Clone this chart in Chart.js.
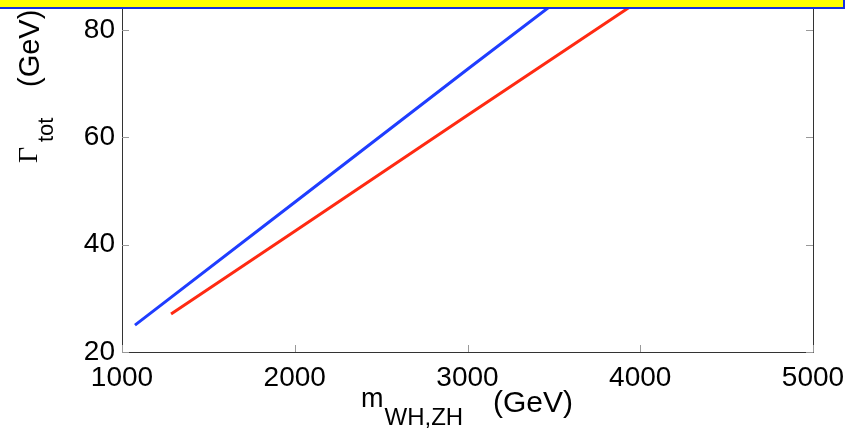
<!DOCTYPE html>
<html>
<head>
<meta charset="utf-8">
<script src="https://cdn.jsdelivr.net/npm/chart.js@4"></script>
<style>
  body { margin: 0; background: #fff; overflow: hidden; }
  #wrap { position: relative; width: 852px; height: 433px; }
  #banner {
    position: absolute; left: -4px; top: -10px; width: 845px; height: 15px;
    background: #ffff00; border: 2px solid #1530e0; box-sizing: content-box;
  }
</style>
</head>
<body>
<div id="wrap">
  <canvas id="chart" width="852" height="433"></canvas>
  <div id="banner"></div>
</div>
<script>
  // values
  const blueMass = [1075, 2000, 3000, 3600];
  const blueWidth = [25.0, 47.9, 72.7, 87.4];
  const redMass = [1284, 2000, 3000, 4000, 4100];
  const redWidth = [27.1, 42.5, 64.1, 85.6, 87.8];
  const xTicks = [1000, 2000, 3000, 4000, 5000];
  const yTicks = [20, 40, 60, 80];

  const pts = (xs, ys) => xs.map((x, i) => ({ x: x, y: ys[i] }));
  const font = 'Liberation Sans, Arial, sans-serif';

  // MATLAB style frame with inward ticks, plus axis titles with subscripts
  const frame = {
    id: 'frame',
    afterDraw(chart) {
      const c = chart.ctx, a = chart.chartArea;
      const xs = chart.scales.x, ys = chart.scales.y;
      c.save();
      c.strokeStyle = '#333';
      c.lineWidth = 1;
      c.beginPath();
      c.moveTo(a.left + 0.5, a.top);
      c.lineTo(a.left + 0.5, a.bottom + 0.5);
      c.lineTo(a.right + 0.5, a.bottom + 0.5);
      c.lineTo(a.right + 0.5, a.top);
      c.stroke();
      c.strokeStyle = '#999';
      c.beginPath();
      xTicks.forEach(v => {
        const p = Math.round(xs.getPixelForValue(v)) + 0.5;
        c.moveTo(p, a.bottom); c.lineTo(p, a.bottom - 7);
      });
      yTicks.forEach(v => {
        const p = Math.round(ys.getPixelForValue(v)) + 0.5;
        c.moveTo(a.left, p); c.lineTo(a.left + 7, p);
        c.moveTo(a.right, p); c.lineTo(a.right - 7, p);
      });
      c.stroke();

      c.fillStyle = '#000';
      c.textBaseline = 'alphabetic';
      // x title: m_{WH,ZH} (GeV)
      c.font = '27px ' + font;
      c.fillText('m', 361, 407);
      let w = c.measureText('m').width;
      c.font = '24px ' + font;
      c.fillText('WH,ZH', 361 + w + 1, 425);
      c.font = '30px ' + font;
      c.fillText('(GeV)', 493, 412);

      // y title: Γ_tot (GeV), rotated
      c.rotate(-Math.PI / 2);
      c.font = '28px "Liberation Serif", "Times New Roman", serif';
      c.fillText('Γ', -163, 37);
      c.font = '22px ' + font;
      c.fillText('tot', -142, 53);
      c.font = '29px ' + font;
      c.fillText('(GeV)', -87, 39);
      c.restore();
    }
  };

  new Chart(document.getElementById('chart'), {
    type: 'scatter',
    data: {
      datasets: [{
        data: pts(blueMass, blueWidth),
        showLine: true,
        borderColor: '#1f3dff',
        borderWidth: 3,
        pointRadius: 0
      }, {
        data: pts(redMass, redWidth),
        showLine: true,
        borderColor: '#ff2a12',
        borderWidth: 3,
        pointRadius: 0
      }]
    },
    options: {
      responsive: false,
      animation: false,
      layout: { padding: { left: 0, right: 39, top: 0, bottom: 0 } },
      plugins: { legend: { display: false }, tooltip: { enabled: false } },
      scales: {
        x: {
          type: 'linear', min: 1000, max: 5000,
          afterFit: s => { s.height = 81; s.paddingLeft = 0; s.paddingRight = 0; },
          grid: { display: false, drawTicks: false },
          border: { display: false },
          ticks: { stepSize: 1000, padding: 9, color: '#000', font: { size: 28, family: font }, maxRotation: 0,
                   callback: v => String(v) }
        },
        y: {
          min: 20, max: 85.6,
          afterFit: s => { s.width = 122; s.paddingTop = 0; s.paddingBottom = 0; },
          grid: { display: false, drawTicks: false },
          border: { display: false },
          ticks: { stepSize: 20, includeBounds: false, padding: 7, color: '#000', font: { size: 28, family: font } }
        }
      }
    },
    plugins: [frame]
  });
</script>
</body>
</html>
